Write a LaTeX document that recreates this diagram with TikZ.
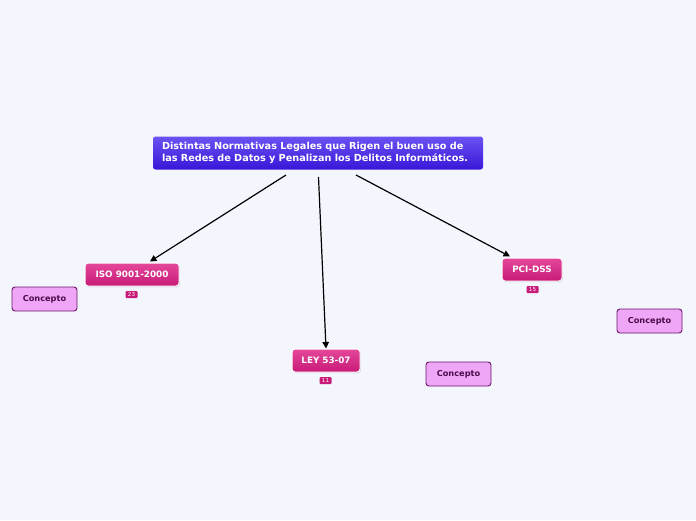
\documentclass[tikz,border=0pt]{standalone}
\usepackage{fontspec}
\setmainfont{DejaVu Sans}
\usetikzlibrary{arrows.meta,shadows}
\definecolor{bg}{HTML}{F4F6FE}
\definecolor{maintop}{HTML}{6A52F2}
\definecolor{mainbot}{HTML}{3A16D8}
\definecolor{pinktop}{HTML}{E4489A}
\definecolor{pinkbot}{HTML}{C81A78}
\definecolor{conceptfill}{HTML}{F0A6F6}
\definecolor{conceptdraw}{HTML}{6A1468}
\definecolor{concepttext}{HTML}{4A0C4A}
\tikzset{
  mainbox/.style={rounded corners=2.5pt, top color=maintop, bottom color=mainbot, draw=none,
    text=white, font=\bfseries\fontsize{9.7}{12}\selectfont, align=left,
    text width=312pt, inner xsep=9pt, inner ysep=0pt, minimum height=33pt},
  topicbox/.style={rounded corners=3pt, top color=pinktop, bottom color=pinkbot, draw=white, line width=1pt,
    text=white, font=\bfseries\fontsize{8.8}{10}\selectfont, minimum height=23pt, inner sep=0pt,
    drop shadow={shadow xshift=0.8pt, shadow yshift=-1pt, opacity=0.35, fill=gray}},
  badge/.style={fill=pinkbot, text=white, font=\fontsize{5.6}{6}\selectfont, minimum width=12pt,
    minimum height=7pt, inner sep=0pt, rounded corners=1pt},
  conceptbox/.style={rounded corners=3pt, fill=conceptfill, draw=conceptdraw, line width=0.9pt,
    text=concepttext, font=\bfseries\fontsize{8.2}{9}\selectfont, minimum width=65pt,
    minimum height=24pt, inner sep=0pt},
  link/.style={draw=black, line width=1.2pt, -{Triangle[length=6.5pt,width=6.5pt]}}
}
\begin{document}
\begin{tikzpicture}[x=1pt,y=-1pt]
\fill[bg] (0,0) rectangle (696,520);
\useasboundingbox (0,0) rectangle (696,520);
\node[mainbox] (main) at (318,153) {Distintas Normativas Legales que Rigen el buen uso de\\las Redes de Datos y Penalizan los Delitos Informáticos.};
\node[topicbox, minimum width=94pt] (iso) at (132,274.5) {ISO 9001-2000};
\node[badge] (isob) at (131.5,294.5) {23};
\node[topicbox, minimum width=68pt] (ley) at (326,360.5) {LEY 53-07};
\node[badge] (leyb) at (325.5,380.5) {11};
\node[topicbox, minimum width=60pt] (pci) at (532,269.5) {PCI-DSS};
\node[badge] (pcib) at (532.5,289.5) {15};
\node[conceptbox] (c1) at (44.5,299) {Concepto};
\node[conceptbox] (c2) at (458.5,374) {Concepto};
\node[conceptbox] (c3) at (649.5,321) {Concepto};
\coordinate (s1) at (286,175);
\coordinate (s2) at (318.5,177);
\coordinate (s3) at (356,175);
\draw[link] (s1) -- ([xshift=18pt,yshift=1pt]iso.north);
\draw[link] (s2) -- (ley.north);
\draw[link] (s3) -- ([xshift=-22pt,yshift=1pt]pci.north);
\end{tikzpicture}
\end{document}
